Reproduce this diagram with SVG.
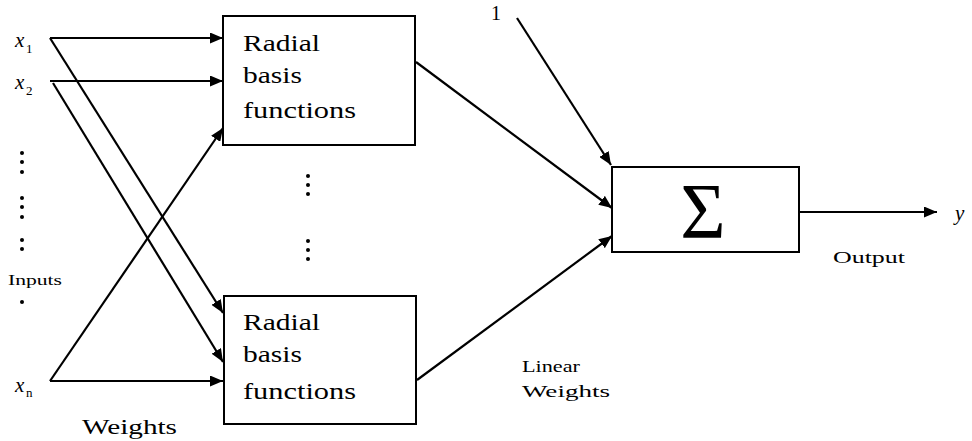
<svg xmlns="http://www.w3.org/2000/svg" width="972" height="441" viewBox="0 0 972 441">
<style>
.box{fill:#fff;stroke:#000;stroke-width:2}
.ln{fill:none;stroke:#000;stroke-width:2.2;marker-end:url(#ah)}
.bt{font-family:"Liberation Serif","DejaVu Serif",serif;font-size:23px;fill:#000}
.lb{font-family:"Liberation Serif","DejaVu Serif",serif;fill:#000}
.var{font-family:"Liberation Serif","DejaVu Serif",serif;font-style:italic;font-size:21px;fill:#000}
.sub{font-family:"Liberation Serif","DejaVu Serif",serif;font-size:13px;fill:#000}
.dot{fill:#000}
</style>
<defs>
<marker id="ah" markerWidth="13" markerHeight="11" refX="13" refY="5.5" orient="auto" markerUnits="userSpaceOnUse">
<path d="M0,0 L13,5.5 L0,11 Z" fill="#000"/>
</marker>
</defs>
<g id="connectors">
<line class="ln" x1="50" y1="38" x2="223" y2="38"/>
<line class="ln" x1="50" y1="81" x2="223" y2="81"/>
<line class="ln" x1="50" y1="381" x2="223" y2="128"/>
<line class="ln" x1="50" y1="38" x2="223" y2="313"/>
<line class="ln" x1="53" y1="83" x2="223" y2="362"/>
<line class="ln" x1="50" y1="381" x2="223" y2="381"/>
<line class="ln" x1="416" y1="62" x2="612" y2="208"/>
<line class="ln" x1="417" y1="380" x2="612" y2="236"/>
<line class="ln" x1="517" y1="18" x2="611" y2="165"/>
<line class="ln" x1="799" y1="212" x2="937" y2="212"/>
</g>
<g id="inputs">
<text class="var" x="15" y="47">x</text><text class="sub" x="26" y="53">1</text>
<text class="var" x="15" y="89">x</text><text class="sub" x="26" y="95">2</text>
<text class="var" x="15" y="392">x</text><text class="sub" x="26" y="397">n</text>
<circle class="dot" cx="22" cy="153" r="2"/>
<circle class="dot" cx="22" cy="162" r="2"/>
<circle class="dot" cx="22" cy="172" r="2"/>
<circle class="dot" cx="22" cy="198" r="2"/>
<circle class="dot" cx="22" cy="207" r="2"/>
<circle class="dot" cx="22" cy="217" r="2"/>
<circle class="dot" cx="22" cy="240" r="2"/>
<circle class="dot" cx="22" cy="249" r="2"/>
<circle class="dot" cx="22" cy="302" r="2"/>
<text class="lb" x="8" y="285" font-size="15" textLength="54" lengthAdjust="spacingAndGlyphs">Inputs</text>
</g>
<g id="rbf1">
<rect class="box" x="223" y="16" width="192" height="129"/>
<text class="bt" x="243" y="51" textLength="77" lengthAdjust="spacingAndGlyphs">Radial</text>
<text class="bt" x="243" y="83" textLength="59" lengthAdjust="spacingAndGlyphs">basis</text>
<text class="bt" x="243" y="118" textLength="113" lengthAdjust="spacingAndGlyphs">functions</text>
</g>
<g id="middle-dots">
<circle class="dot" cx="308" cy="176" r="2"/>
<circle class="dot" cx="308" cy="185" r="2"/>
<circle class="dot" cx="308" cy="194" r="2"/>
<circle class="dot" cx="308" cy="241" r="2"/>
<circle class="dot" cx="308" cy="250" r="2"/>
<circle class="dot" cx="308" cy="259" r="2"/>
</g>
<g id="rbf2">
<rect class="box" x="224" y="296" width="192" height="128"/>
<text class="bt" x="243" y="330" textLength="77" lengthAdjust="spacingAndGlyphs">Radial</text>
<text class="bt" x="243" y="362" textLength="59" lengthAdjust="spacingAndGlyphs">basis</text>
<text class="bt" x="243" y="399" textLength="113" lengthAdjust="spacingAndGlyphs">functions</text>
</g>
<g id="bias">
<text class="lb" x="491" y="20" font-size="20">1</text>
</g>
<g id="sum">
<rect class="box" x="612" y="167" width="187" height="85"/>
<text class="lb" x="703" y="237" font-size="78" text-anchor="middle">Σ</text>
</g>
<g id="output">
<text class="var" x="955" y="220">y</text>
<text class="lb" x="833" y="263" font-size="16" textLength="72" lengthAdjust="spacingAndGlyphs">Output</text>
</g>
<g id="labels">
<text class="lb" x="522" y="372" font-size="17" textLength="58" lengthAdjust="spacingAndGlyphs">Linear</text>
<text class="lb" x="522" y="397" font-size="17" textLength="88" lengthAdjust="spacingAndGlyphs">Weights</text>
<text class="lb" x="82" y="434" font-size="20" textLength="95" lengthAdjust="spacingAndGlyphs">Weights</text>
</g>
</svg>
